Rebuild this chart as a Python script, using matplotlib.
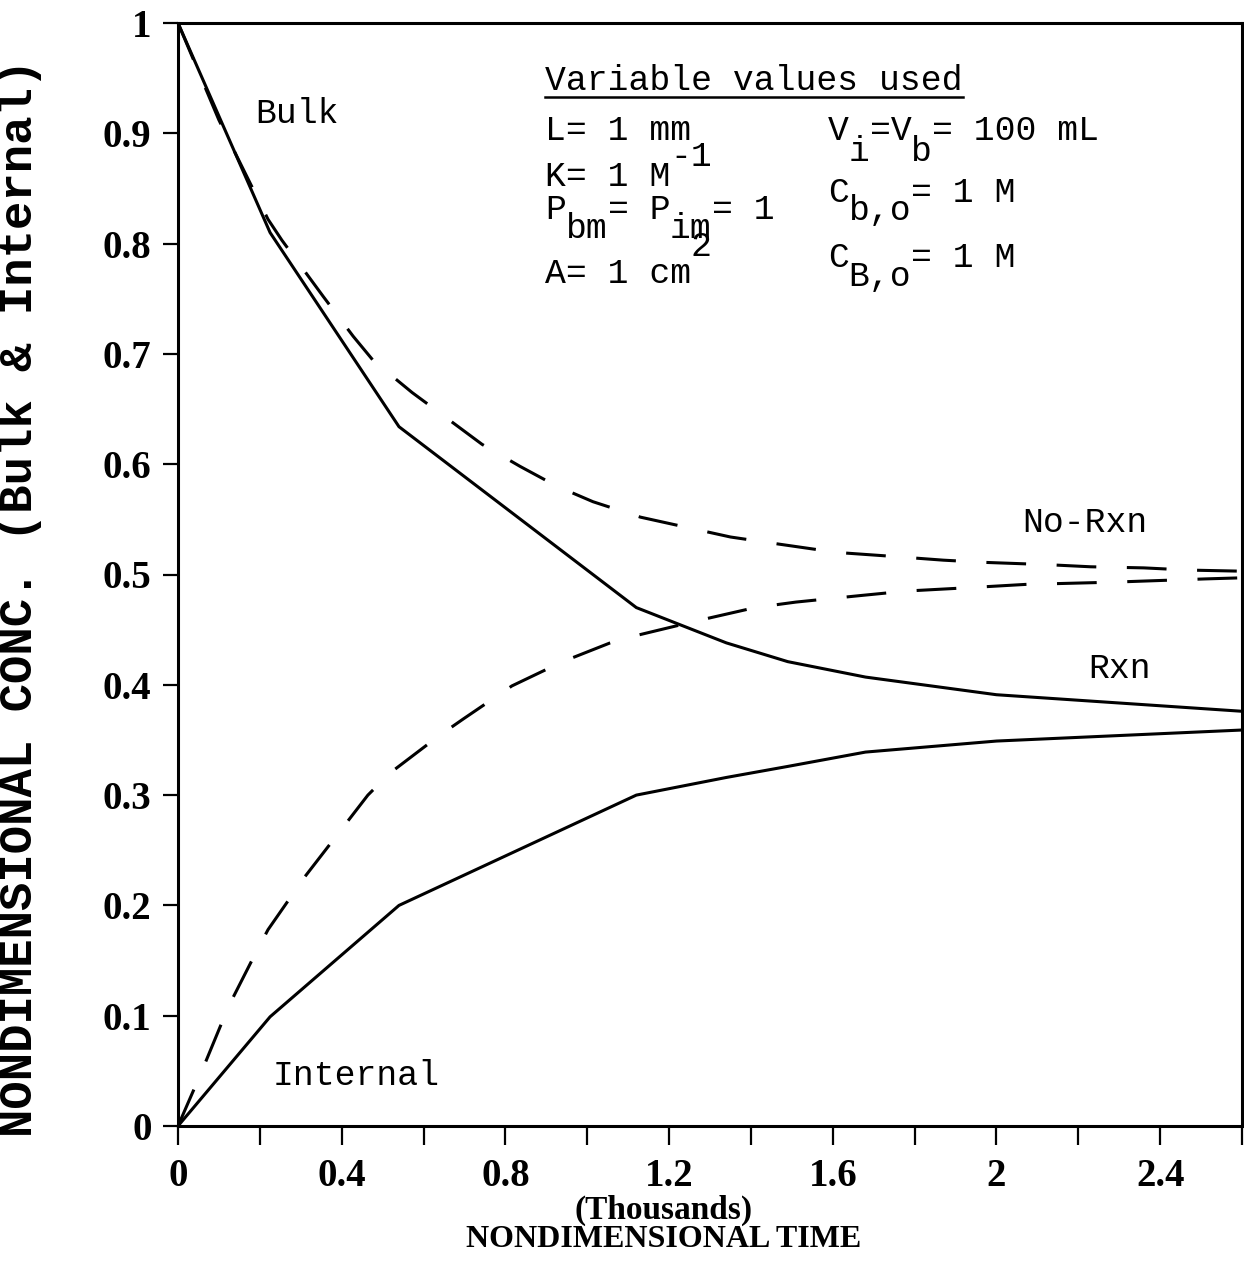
"""Bulk / internal concentration vs nondimensional time, with and without reaction."""
import matplotlib
matplotlib.use('Agg')
import matplotlib.pyplot as plt
from matplotlib.ticker import FixedLocator

# time in thousands (nondimensional)
t_rxn = [0.0, 0.225, 0.54, 1.12, 1.34, 1.49, 1.68, 2.0, 2.6]
bulk_rxn = [1.0, 0.81, 0.634, 0.47, 0.438, 0.421, 0.407, 0.391, 0.376]
internal_rxn = [0.0, 0.099, 0.2, 0.30, 0.316, 0.326, 0.339, 0.349, 0.359]

t_bulk_norxn = [0.0, 0.1, 0.22, 0.254, 0.355, 0.428, 0.477, 0.572, 0.645, 0.743,
                0.836, 0.926, 1.014, 1.13, 1.24, 1.35, 1.46, 1.61, 1.725, 1.87,
                1.97, 2.12, 2.23, 2.36, 2.47, 2.6]
bulk_norxn = [1.0, 0.912, 0.822, 0.803, 0.752, 0.716, 0.694, 0.665, 0.645, 0.618,
              0.598, 0.58, 0.566, 0.552, 0.543, 0.534, 0.528, 0.52, 0.517, 0.513,
              0.511, 0.509, 0.507, 0.506, 0.504, 0.503]

t_int_norxn = [0.0, 0.054, 0.103, 0.127, 0.19, 0.22, 0.31, 0.36, 0.464, 0.518,
               0.635, 0.697, 0.816, 0.94, 1.056, 1.09, 1.28, 1.41, 1.51, 1.67,
               1.78, 1.93, 2.07, 2.28, 2.51, 2.6]
int_norxn = [0.0, 0.046, 0.09, 0.111, 0.157, 0.178, 0.226, 0.25, 0.30, 0.32,
             0.353, 0.369, 0.399, 0.421, 0.438, 0.442, 0.459, 0.47, 0.475, 0.481,
             0.485, 0.488, 0.491, 0.493, 0.496, 0.497]

x_major = [0, 0.4, 0.8, 1.2, 1.6, 2.0, 2.4]
x_major_labels = ['0', '0.4', '0.8', '1.2', '1.6', '2', '2.4']
x_minor = [0.2, 0.6, 1.0, 1.4, 1.8, 2.2, 2.6]
y_ticks = [0, 0.1, 0.2, 0.3, 0.4, 0.5, 0.6, 0.7, 0.8, 0.9, 1.0]
y_labels = ['0', '0.1', '0.2', '0.3', '0.4', '0.5', '0.6', '0.7', '0.8', '0.9', '1']

TICKFONT = dict(family=['Liberation Serif', 'DejaVu Serif'], weight='bold')
MONO = dict(family=['Liberation Mono', 'DejaVu Sans Mono'])
MONO_SIZE = 25
CHAR_W = 0.6 * MONO_SIZE  # advance of one monospace char, in points

fig = plt.figure(figsize=(12.44, 12.73), dpi=100)
ax = fig.add_axes([178 / 1244, 147 / 1273, 1064 / 1244, 1103 / 1273])

ax.plot(t_rxn, bulk_rxn, color='black', lw=2.2, solid_joinstyle='miter')
ax.plot(t_rxn, internal_rxn, color='black', lw=2.2, solid_joinstyle='miter')
ax.plot(t_bulk_norxn, bulk_norxn, color='black', lw=2.2, dashes=(13, 10))
ax.plot(t_int_norxn, int_norxn, color='black', lw=2.2, dashes=(13, 10))

ax.set_xlim(0, 2.6)
ax.set_ylim(0, 1)
for s in ax.spines.values():
    s.set_linewidth(2.2)

ax.xaxis.set_major_locator(FixedLocator(x_major))
ax.set_xticklabels(x_major_labels, fontsize=28, **TICKFONT)
ax.xaxis.set_minor_locator(FixedLocator(x_minor))
ax.set_yticks(y_ticks)
ax.set_yticklabels(y_labels, fontsize=28, **TICKFONT)
ax.tick_params(axis='x', which='both', direction='out', length=14, width=1.6, pad=9)
ax.tick_params(axis='y', direction='out', length=11, width=1.6, pad=8)

fig.text(0.5335, 0.0495, '(Thousands)', ha='center', va='center', fontsize=24, **TICKFONT)
fig.text(0.5335, 0.026, 'NONDIMENSIONAL TIME', ha='center', va='center', fontsize=23, **TICKFONT)
fig.text(0.016, 0.53, 'NONDIMENSIONAL CONC. (Bulk & Internal)', rotation=90,
         ha='center', va='center', fontsize=34, weight='bold', **MONO)

# curve labels
ax.text(0.188, 0.918, 'Bulk', fontsize=MONO_SIZE, va='center', **MONO)
ax.text(0.232, 0.046, 'Internal', fontsize=MONO_SIZE, va='center', **MONO)
ax.text(2.062, 0.547, 'No-Rxn', fontsize=MONO_SIZE, va='center', **MONO)
ax.text(2.224, 0.415, 'Rxn', fontsize=MONO_SIZE, va='center', **MONO)

# parameter block, typewriter style: (column x, baseline y, char column, text)
ax.text(0.897, 0.939, 'Variable values used', fontsize=MONO_SIZE, va='baseline', **MONO)
ax.plot([0.897, 1.918], [0.933, 0.933], color='black', lw=1.8)
pieces = [
    (0.897, 0.894, 0, 'L= 1 mm'),
    (0.897, 0.852, 0, 'K= 1 M'),
    (0.897, 0.870, 6, '-1'),
    (0.897, 0.822, 0, 'P'),
    (0.897, 0.805, 1, 'bm'),
    (0.897, 0.822, 3, '= P'),
    (0.897, 0.805, 6, 'im'),
    (0.897, 0.822, 8, '= 1'),
    (0.897, 0.764, 0, 'A= 1 cm'),
    (0.897, 0.789, 7, '2'),
    (1.588, 0.894, 0, 'V'),
    (1.588, 0.875, 1, 'i'),
    (1.588, 0.894, 2, '=V'),
    (1.588, 0.875, 4, 'b'),
    (1.588, 0.894, 5, '= 100 mL'),
    (1.588, 0.838, 0, 'C'),
    (1.588, 0.821, 1, 'b,o'),
    (1.588, 0.838, 4, '= 1 M'),
    (1.588, 0.779, 0, 'C'),
    (1.588, 0.762, 1, 'B,o'),
    (1.588, 0.779, 4, '= 1 M'),
]
for x, y, col, s in pieces:
    ax.annotate(s, (x, y), xytext=(col * CHAR_W, 0), textcoords='offset points',
                fontsize=MONO_SIZE, va='baseline', **MONO)

fig.savefig('out.png', dpi=100)
